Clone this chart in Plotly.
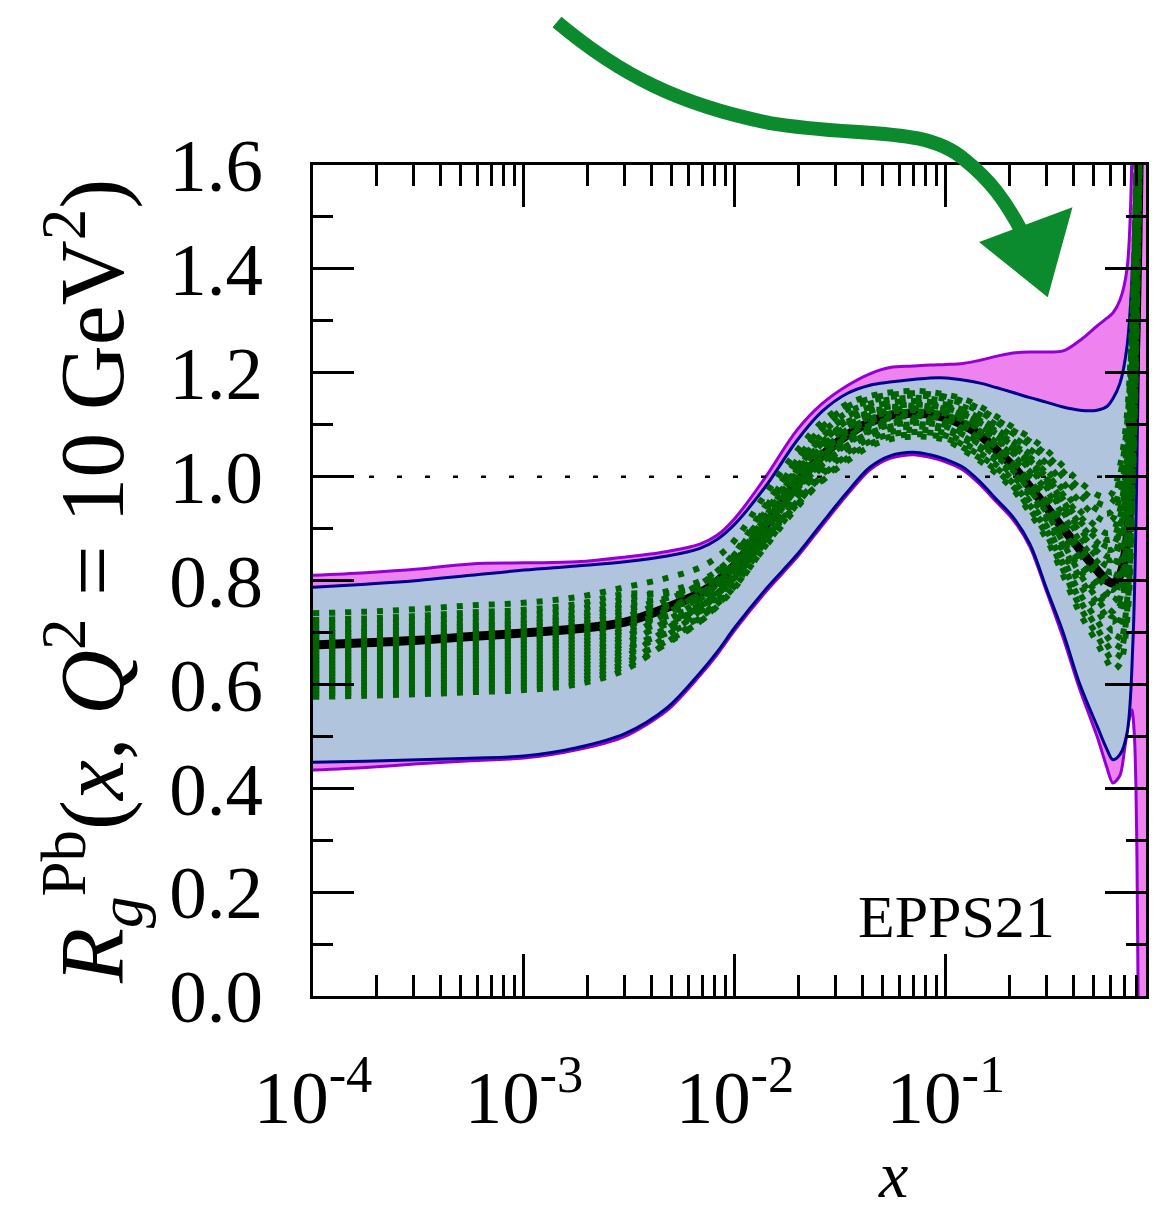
import math
import plotly.graph_objects as go

# ---------------- data ----------------
X = [1.0e-4, 1.78e-4, 3.15e-4, 5.61e-4, 1.0e-3, 1.78e-3, 3.01e-3, 4.77e-3, 6.82e-3, 8.22e-3,
     1.0e-2, 1.39e-2, 1.97e-2, 2.58e-2, 3.40e-2, 4.36e-2, 5.43e-2, 6.98e-2, 8.40e-2, 0.100,
     0.1205, 0.145, 0.1746, 0.208, 0.250, 0.301, 0.359, 0.431, 0.520, 0.579,
     0.618, 0.668, 0.721, 0.769, 0.812, 0.849, 0.887]

MAG_UP = [0.810, 0.815, 0.822, 0.832, 0.834, 0.836, 0.845, 0.856, 0.870, 0.887,
          0.920, 0.998, 1.090, 1.140, 1.175, 1.198, 1.210, 1.213, 1.215, 1.216,
          1.218, 1.224, 1.232, 1.238, 1.240, 1.240, 1.242, 1.262, 1.290, 1.305,
          1.315, 1.340, 1.400, 1.700, 2.100, 2.500, 3.000]

BLUE_UP = [0.787, 0.793, 0.800, 0.810, 0.820, 0.828, 0.836, 0.847, 0.862, 0.879,
           0.909, 0.980, 1.070, 1.125, 1.160, 1.176, 1.182, 1.187, 1.190, 1.190,
           1.186, 1.180, 1.171, 1.162, 1.152, 1.143, 1.134, 1.128, 1.128, 1.135,
           1.150, 1.180, 1.250, 1.420, 1.850, 2.300, 2.800]

BLUE_LO = [0.450, 0.452, 0.455, 0.458, 0.462, 0.478, 0.505, 0.555, 0.622, 0.662,
           0.710, 0.782, 0.850, 0.910, 0.970, 1.018, 1.040, 1.047, 1.042, 1.033,
           1.018, 0.990, 0.955, 0.922, 0.870, 0.782, 0.700, 0.600, 0.520, 0.475,
           0.455, 0.465, 0.506, 0.680, 1.150, 1.800, 2.500]

MAG_LO_X = [1.0e-4, 1.78e-4, 3.15e-4, 5.61e-4, 1.0e-3, 1.78e-3, 3.01e-3, 4.77e-3, 6.82e-3, 8.22e-3,
            1.0e-2, 1.39e-2, 1.97e-2, 2.58e-2, 3.40e-2, 4.36e-2, 5.43e-2, 6.98e-2, 8.40e-2, 0.100,
            0.1205, 0.145, 0.1746, 0.208, 0.250, 0.301, 0.359, 0.431, 0.520, 0.579,
            0.618, 0.668, 0.705, 0.736, 0.761, 0.782, 0.795, 0.804, 0.812, 0.822, 0.887]
MAG_LO = [0.435, 0.440, 0.447, 0.453, 0.458, 0.474, 0.500, 0.550, 0.617, 0.657,
          0.705, 0.777, 0.845, 0.905, 0.965, 1.013, 1.035, 1.042, 1.037, 1.028,
          1.013, 0.985, 0.950, 0.917, 0.865, 0.777, 0.690, 0.590, 0.500, 0.440,
          0.410, 0.425, 0.480, 0.530, 0.551, 0.500, 0.400, 0.260, 0.050, -0.200, -0.600]

CENTRAL = [0.676, 0.680, 0.685, 0.692, 0.699, 0.707, 0.720, 0.748, 0.776, 0.798,
           0.830, 0.905, 0.990, 1.040, 1.080, 1.105, 1.118, 1.122, 1.120, 1.113,
           1.100, 1.080, 1.050, 1.020, 0.980, 0.940, 0.900, 0.860, 0.820, 0.800,
           0.795, 0.810, 0.880, 1.080, 1.450, 2.000, 2.600]

GREEN_UP = [0.737, 0.740, 0.745, 0.752, 0.757, 0.768, 0.787, 0.805, 0.825, 0.845,
            0.878, 0.965, 1.050, 1.105, 1.140, 1.155, 1.162, 1.165, 1.163, 1.158,
            1.150, 1.135, 1.115, 1.095, 1.075, 1.050, 1.020, 0.990, 0.965, 0.960,
            0.970, 1.020, 1.120, 1.350, 1.750, 2.300, 2.800]

GREEN_LO = [0.576, 0.578, 0.581, 0.585, 0.589, 0.600, 0.628, 0.666, 0.705, 0.735,
            0.772, 0.850, 0.930, 0.985, 1.030, 1.058, 1.072, 1.077, 1.076, 1.070,
            1.051, 1.030, 1.005, 0.975, 0.930, 0.878, 0.810, 0.737, 0.680, 0.645,
            0.628, 0.640, 0.720, 0.980, 1.400, 1.900, 2.500]

# position of each error-set curve inside the green spread: at small x and at large x
REPLICA_POS_LOWX = [0.0, 0.04, 0.08, 0.12, 0.16, 0.20, 0.24, 0.28, 0.32, 0.36, 0.40,
                    0.44, 0.48, 0.52, 0.56, 0.60, 0.64, 0.68, 0.72, 0.76, 0.80,
                    0.86, 0.92, 1.0]
REPLICA_POS_HIGHX = [0.55, 0.30, 0.70, 0.15, 0.85, 0.45, 0.62, 0.05, 0.78, 0.38, 0.95,
                     0.22, 0.58, 0.68, 0.10, 0.50, 0.90, 0.33, 0.74, 0.0, 0.42,
                     0.64, 0.27, 1.0]
BLEND_FROM, BLEND_TO = 3e-3, 3e-2   # x range over which the curves cross

Y_TICKS = [0.0, 0.2, 0.4, 0.6, 0.8, 1.0, 1.2, 1.4, 1.6]
Y_TICKTEXT = ["0.0", "0.2", "0.4", "0.6", "0.8", "1.0", "1.2", "1.4", "1.6"]
X_TICKS = [1e-4, 1e-3, 1e-2, 1e-1]
X_TICKTEXT = ["10<sup>-4</sup>", "10<sup>-3</sup>", "10<sup>-2</sup>", "10<sup>-1</sup>"]
X_MINOR = [k * 10.0 ** e for e in range(-4, 0) for k in range(2, 10)]

FONT = "Liberation Serif"

# ---------------- figure ----------------
fig = go.Figure()
SM = 1.0

fig.add_trace(go.Scatter(x=MAG_LO_X, y=MAG_LO, mode="lines",
                         line=dict(color="#9400D3", width=3, shape="spline", smoothing=0.8),
                         showlegend=False, hoverinfo="skip"))
fig.add_trace(go.Scatter(x=X, y=MAG_UP, mode="lines", fill="tonexty", fillcolor="#EE82EE",
                         line=dict(color="#9400D3", width=3, shape="spline", smoothing=SM),
                         showlegend=False, hoverinfo="skip"))
fig.add_trace(go.Scatter(x=X, y=BLUE_LO, mode="lines",
                         line=dict(color="#00008B", width=3, shape="spline", smoothing=SM),
                         showlegend=False, hoverinfo="skip"))
fig.add_trace(go.Scatter(x=X, y=BLUE_UP, mode="lines", fill="tonexty", fillcolor="#B0C4DE",
                         line=dict(color="#00008B", width=3, shape="spline", smoothing=SM),
                         showlegend=False, hoverinfo="skip"))
fig.add_trace(go.Scatter(x=[X[0], X[-1]], y=[1.0, 1.0], mode="lines",
                         line=dict(color="black", width=2.5, dash="5px,23px"),
                         showlegend=False, hoverinfo="skip"))
fig.add_trace(go.Scatter(x=X, y=CENTRAL, mode="lines",
                         line=dict(color="black", width=9, shape="spline", smoothing=SM),
                         showlegend=False, hoverinfo="skip"))

la, lb = math.log10(BLEND_FROM), math.log10(BLEND_TO)
for f_lo, f_hi in zip(REPLICA_POS_LOWX, REPLICA_POS_HIGHX):
    yr = []
    for xv, lo, up in zip(X, GREEN_LO, GREEN_UP):
        w = min(1.0, max(0.0, (math.log10(xv) - la) / (lb - la)))
        f = f_lo + w * (f_hi - f_lo)
        yr.append(lo + f * (up - lo))
    fig.add_trace(go.Scatter(x=X, y=yr, mode="lines",
                             line=dict(color="#006400", width=6, dash="6px,10px",
                                       shape="spline", smoothing=SM),
                             showlegend=False, hoverinfo="skip"))

L, R, T, B = 313, 1146, 165, 996
W, H = R - L, B - T


def pp(px, py):
    return (px - L) / W, (B - py) / H


def path_from(cmds):
    out = []
    for c, pts in cmds:
        s = c
        for (a, b) in pts:
            u, v = pp(a, b)
            s += f" {u:.4f},{v:.4f}"
        out.append(s)
    return " ".join(out)


ARROW_GREEN = "#0B8A2E"
arrow_body = path_from([
    ("M", [(557, 22)]),
    ("C", [(620, 75), (680, 105), (770, 123)]),
    ("C", [(860, 138), (925, 125), (965, 160)]),
    ("C", [(990, 180), (1005, 200), (1022, 232)]),
])
arrow_head = path_from([
    ("M", [(985, 243)]),
    ("L", [(1068, 212)]),
    ("L", [(1046, 292)]),
]) + " Z"

shapes = [
    dict(type="path", xref="paper", yref="paper", path=arrow_body,
         line=dict(color=ARROW_GREEN, width=14), layer="above"),
    dict(type="path", xref="paper", yref="paper", path=arrow_head,
         line=dict(color=ARROW_GREEN, width=6), fillcolor=ARROW_GREEN, layer="above"),
]

annotations = [
    dict(text="<i>R</i><sub><i>g</i></sub><sup>Pb</sup>(<i>x</i>, <i>Q</i><sup>2</sup> = 10 GeV<sup>2</sup>)",
         xref="paper", yref="paper", x=pp(92, 0)[0], y=pp(0, 582)[1], textangle=-90,
         xanchor="center", yanchor="middle", showarrow=False,
         font=dict(family=FONT, size=90, color="black")),
    dict(text="EPPS21", xref="paper", yref="paper", x=pp(956, 0)[0], y=pp(0, 917)[1],
         xanchor="center", yanchor="middle", showarrow=False,
         font=dict(family=FONT, size=60, color="black")),
    dict(text="<i>x</i>", xref="paper", yref="paper", x=pp(893, 0)[0], y=pp(0, 1174)[1],
         xanchor="center", yanchor="middle", showarrow=False,
         font=dict(family=FONT, size=66, color="black")),
]

fig.update_layout(
    width=1164, height=1211, autosize=False,
    margin=dict(l=L, r=1164 - R, t=T, b=1211 - B),
    paper_bgcolor="white", plot_bgcolor="white",
    shapes=shapes, annotations=annotations,
    xaxis=dict(type="log", range=[-4, -0.052], showgrid=False, zeroline=False,
               showline=True, linecolor="black", linewidth=3, mirror="ticks",
               ticks="inside", ticklen=42, tickwidth=2.5, tickcolor="black",
               tickmode="array", tickvals=X_TICKS, ticktext=X_TICKTEXT,
               tickfont=dict(family=FONT, size=75, color="black"),
               ticklabelstandoff=34,
               minor=dict(ticks="inside", ticklen=21, tickwidth=2.5, tickcolor="black",
                          tickmode="array", tickvals=X_MINOR, showgrid=False)),
    yaxis=dict(range=[0, 1.6], showgrid=False, zeroline=False,
               showline=True, linecolor="black", linewidth=3, mirror="ticks",
               ticks="inside", ticklen=41, tickwidth=2.5, tickcolor="black",
               tickmode="array", tickvals=Y_TICKS, ticktext=Y_TICKTEXT,
               tickfont=dict(family=FONT, size=75, color="black"),
               ticklabelstandoff=32,
               minor=dict(ticks="inside", ticklen=20, tickwidth=2.5, tickcolor="black",
                          dtick=0.1, showgrid=False)),
)

fig.write_html("out.html")
